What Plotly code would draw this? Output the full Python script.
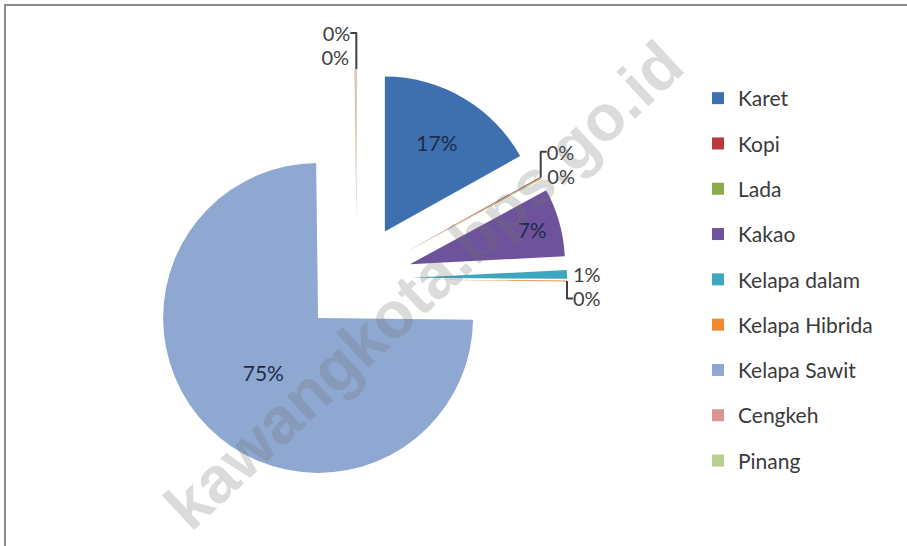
import plotly.graph_objects as go

# Data
labels = ["Karet", "Kopi", "Lada", "Kakao", "Kelapa dalam", "Kelapa Hibrida",
          "Kelapa Sawit", "Cengkeh", "Pinang"]
values = [16.9, 0.1, 0.1, 7.1, 0.9, 0.1, 74.6, 0.1, 0.1]
colors = ["#3E6FAE", "#B9393C", "#8DAB4D", "#6E529C", "#3FA6C0", "#F08A30",
          "#8FA8D2", "#D99594", "#B7D08F"]
text_pos = ["inside", "outside", "outside", "inside", "outside", "outside",
            "inside", "outside", "outside"]
watermark = "kawangkota.bps.go.id"

W, H = 907, 546
FONT = "Lato"

fig = go.Figure()

fig.add_trace(go.Pie(
    labels=labels,
    values=values,
    sort=False,
    direction="clockwise",
    rotation=0,
    pull=[0.355] * len(values),
    marker=dict(colors=colors, line=dict(width=0)),
    texttemplate="%{percent:.0%}",
    textposition=text_pos,
    insidetextorientation="horizontal",
    insidetextfont=dict(family=FONT, size=21, color="#1e2b4a"),
    outsidetextfont=dict(family=FONT, size=20, color="#404040"),
    domain=dict(x=[147 / W, 567 / W], y=[1 - 489 / H, 1 - 69 / H]),
    showlegend=False,
    hoverinfo="label+percent",
))

# Legend entries (one per category)
for lab, col in zip(labels, colors):
    fig.add_trace(go.Scatter(
        x=[None], y=[None], mode="markers", name=lab, legendgroup=lab,
        marker=dict(symbol="square", size=12, color=col),
        showlegend=True,
    ))

fig.update_layout(
    width=W, height=H,
    margin=dict(l=0, r=0, t=0, b=0, autoexpand=False),
    paper_bgcolor="white", plot_bgcolor="white",
    xaxis=dict(visible=False), yaxis=dict(visible=False),
    legend=dict(
        x=698 / W, xanchor="left", y=1 - 78 / H, yanchor="top",
        font=dict(family=FONT, size=21, color="#3a3a3a"),
        tracegroupgap=15, bgcolor="rgba(0,0,0,0)",
    ),
    shapes=[dict(type="rect", xref="paper", yref="paper",
                 x0=5 / W, x1=1.01, y0=-0.02, y1=1 - 5 / H,
                 line=dict(color="#8a8a8a", width=2))],
    annotations=[dict(
        text="<b>" + watermark + "</b>", xref="paper", yref="paper",
        x=423 / W, y=1 - 285 / H, showarrow=False, textangle=-43,
        font=dict(family="Liberation Sans", size=65, color="rgba(110,110,110,0.25)"),
    )],
)

fig.write_html("out.html", config={"displayModeBar": False},
               post_script="document.body.style.margin='0px';")
